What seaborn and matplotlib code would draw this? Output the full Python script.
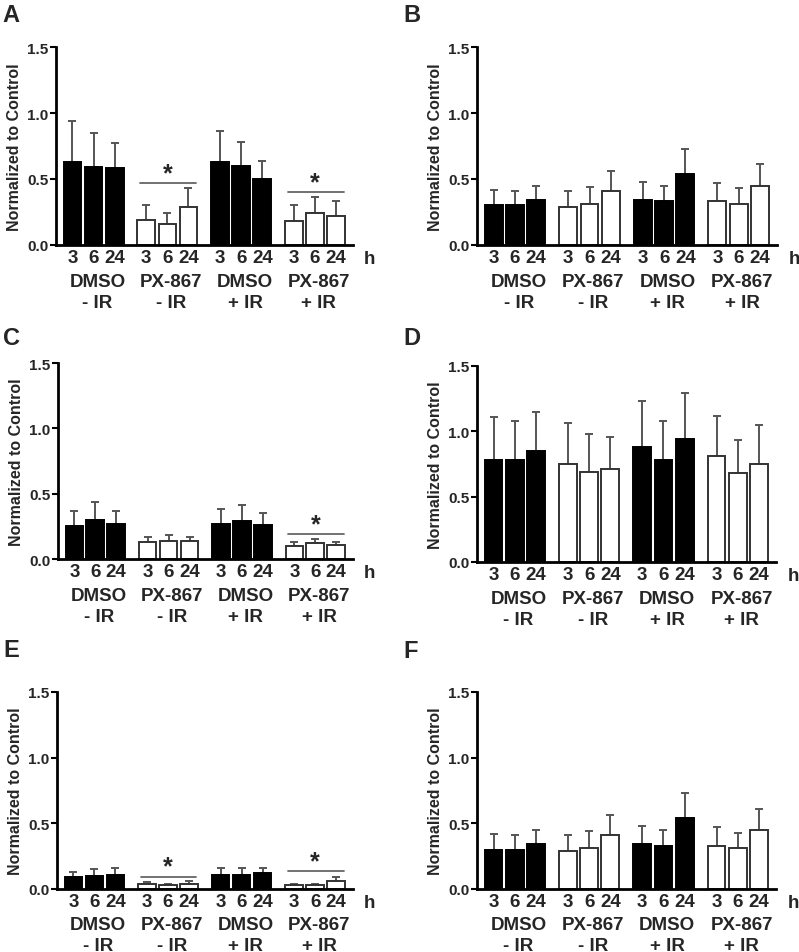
import matplotlib
matplotlib.use("Agg")
import matplotlib.pyplot as plt
import seaborn as sns
import pandas as pd
import numpy as np

# ---------------- data ----------------
groups = ["DMSO\n- IR", "PX-867\n- IR", "DMSO\n+ IR", "PX-867\n+ IR"]
group_drug = ["DMSO", "PX-867", "DMSO", "PX-867"]
times = ["3", "6", "24"]
panels = ["A", "B", "C", "D", "E", "F"]

mean_A = [0.63, 0.59, 0.58, 0.19, 0.16, 0.29, 0.63, 0.60, 0.50, 0.18, 0.24, 0.22]
err_A = [0.31, 0.26, 0.19, 0.11, 0.08, 0.14, 0.23, 0.18, 0.14, 0.12, 0.12, 0.11]

mean_B = [0.30, 0.30, 0.34, 0.29, 0.31, 0.41, 0.34, 0.33, 0.54, 0.33, 0.31, 0.45]
err_B = [0.12, 0.11, 0.11, 0.12, 0.13, 0.15, 0.14, 0.12, 0.19, 0.14, 0.12, 0.16]

mean_C = [0.25, 0.30, 0.27, 0.13, 0.14, 0.14, 0.27, 0.29, 0.26, 0.10, 0.12, 0.11]
err_C = [0.12, 0.14, 0.10, 0.04, 0.04, 0.03, 0.11, 0.12, 0.09, 0.03, 0.03, 0.02]

mean_D = [0.78, 0.78, 0.85, 0.75, 0.69, 0.71, 0.88, 0.78, 0.94, 0.81, 0.68, 0.75]
err_D = [0.33, 0.30, 0.30, 0.31, 0.29, 0.25, 0.35, 0.30, 0.35, 0.31, 0.25, 0.30]

mean_E = [0.09, 0.10, 0.11, 0.04, 0.03, 0.04, 0.11, 0.11, 0.12, 0.03, 0.03, 0.06]
err_E = [0.04, 0.05, 0.05, 0.01, 0.01, 0.02, 0.05, 0.05, 0.04, 0.01, 0.01, 0.03]

mean_F = [0.30, 0.30, 0.34, 0.29, 0.31, 0.41, 0.34, 0.33, 0.54, 0.33, 0.31, 0.45]
err_F = [0.12, 0.11, 0.11, 0.12, 0.13, 0.15, 0.14, 0.12, 0.19, 0.14, 0.12, 0.16]

# significance bars: (group index, y of line)
sig_A = [(1, 0.466), (3, 0.398)]
sig_B = []
sig_C = [(3, 0.189)]
sig_D = []
sig_E = [(1, 0.094), (3, 0.134)]
sig_F = []

means = [mean_A, mean_B, mean_C, mean_D, mean_E, mean_F]
errs = [err_A, err_B, err_C, err_D, err_E, err_F]
sigs = [sig_A, sig_B, sig_C, sig_D, sig_E, sig_F]

# ---------------- style ----------------
sns.set_theme(style="ticks")
plt.rcParams["font.family"] = ["Liberation Sans", "DejaVu Sans"]
plt.rcParams["font.weight"] = "bold"

W, H = 799, 953
fig = plt.figure(figsize=(W / 100, H / 100), dpi=100)

# axes rectangles in pixels: left, right, top, bottom
rects = [(56, 353, 48, 246), (477, 777, 48, 246),
         (58, 353, 364, 560), (477, 776, 367, 563),
         (57, 353, 693, 890), (477, 776, 693, 890)]
label_pos = [(2, 22), (403, 22), (3, 345), (403, 345), (3, 657), (403, 658)]
# baseline offsets (pt) of the two group-label lines below the x axis
line_off = [(29.5, 44.6), (29.5, 44.6), (29.5, 44.6), (29.5, 44.6), (28.8, 43.6), (28.8, 43.6)]

GROUP_STEP = 3.5
positions = [g * GROUP_STEP + t for g in range(4) for t in range(3)]
TXT = 13.5

for k, p in enumerate(panels):
    l, r, t, b = rects[k]
    ax = fig.add_axes([l / W, 1 - b / H, (r - l) / W, (b - t) / H])
    df = pd.DataFrame({
        "pos": positions,
        "value": means[k],
        "err": errs[k],
        "drug": [group_drug[g] for g in range(4) for _ in range(3)],
    })
    for drug, face, edge in [("DMSO", "black", "black"), ("PX-867", "white", "#333333")]:
        sub = df[df["drug"] == drug]
        sns.barplot(data=sub, x="pos", y="value", native_scale=True, ax=ax,
                    color=face, edgecolor=edge, linewidth=1.4, saturation=1,
                    width=0.84, errorbar=None, zorder=2)
    ax.errorbar(df["pos"], df["value"], yerr=[np.zeros(len(df)), df["err"]],
                fmt="none", ecolor="#555555", elinewidth=1.4, capsize=3.2,
                capthick=1.4, zorder=1)

    for g, y in sigs[k]:
        x0 = g * GROUP_STEP - 0.3
        x1 = g * GROUP_STEP + 2 + 0.35
        ax.plot([x0, x1], [y, y], color="#666666", lw=1.3, zorder=3)
        ax.annotate("*", xy=(g * GROUP_STEP + 1, y), xytext=(0, 2.5),
                    textcoords="offset points", ha="center", va="baseline",
                    fontsize=18, fontweight="bold")

    ax.set_xlim(-0.78, 13.3)
    ax.set_ylim(0, 1.5)
    ax.set_yticks([0.0, 0.5, 1.0, 1.5])
    ax.set_yticklabels(["0.0", "0.5", "1.0", "1.5"], fontsize=11, fontweight="bold")
    ax.set_xticks(positions)
    ax.set_xticklabels(times * 4, fontsize=TXT, fontweight="bold")
    ax.tick_params(axis="x", length=0, pad=3.0)
    ax.tick_params(axis="y", length=4, width=1.5, pad=1.5, color="black")
    ax.set_xlabel("")
    ax.set_ylabel("Normalized to Control", fontsize=11.5, fontweight="bold")
    ax.yaxis.set_label_coords(-0.115, 0.5)
    for s in ["top", "right"]:
        ax.spines[s].set_visible(False)
    for s in ["left", "bottom"]:
        ax.spines[s].set_linewidth(2)
        ax.spines[s].set_color("black")
    ax.set_facecolor("white")

    trans = ax.get_xaxis_transform()
    o1, o2 = line_off[k]
    for g in range(4):
        cx = g * GROUP_STEP + 1 + 0.18
        name, ir = groups[g].split("\n")
        ax.annotate(name, xy=(cx, 0), xycoords=trans, xytext=(0, -o1),
                    textcoords="offset points", ha="center", va="baseline",
                    fontsize=TXT, fontweight="bold", annotation_clip=False)
        ax.annotate(ir, xy=(cx, 0), xycoords=trans, xytext=(0, -o2),
                    textcoords="offset points", ha="center", va="baseline",
                    fontsize=TXT, fontweight="bold", annotation_clip=False)
    ax.annotate("h", xy=(1.057, 0), xycoords="axes fraction", xytext=(0, -13),
                textcoords="offset points", ha="center", va="baseline",
                fontsize=TXT, fontweight="bold", annotation_clip=False)

    lx, ly = label_pos[k]
    fig.text(lx / W, 1 - ly / H, p, fontsize=17, fontweight="bold",
             ha="left", va="baseline")

fig.savefig("out.png", dpi=100, facecolor="white")
